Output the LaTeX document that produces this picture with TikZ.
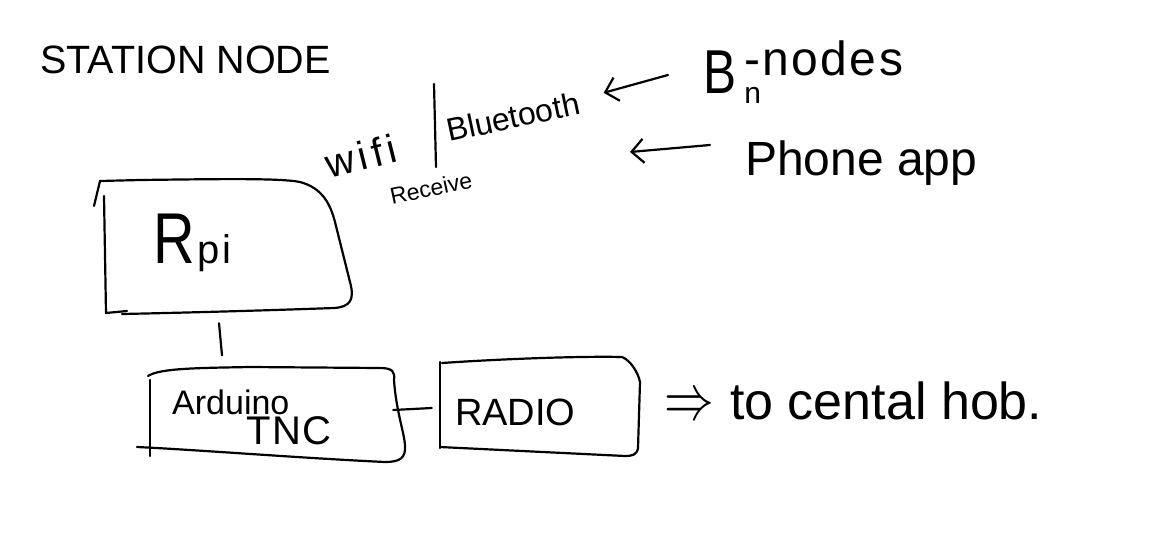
\documentclass[tikz,border=0pt]{standalone}
\usepackage{fontspec}
\setmainfont{Liberation Sans}
\usetikzlibrary{arrows.meta}
\newcommand{\fs}[1]{\fontsize{#1}{#1}\selectfont}
\newcommand{\ls}[1]{\addfontfeature{LetterSpace=#1}}
\begin{document}
\begin{tikzpicture}[x=1pt,y=-1pt,
  ink/.style={line width=2.2pt, line cap=round, line join=round, black},
  lbl/.style={inner sep=0pt, anchor=base west, text=black},
  box/.style={draw=none, inner sep=0pt},
  barb/.style={ink, -{Straight Barb[length=12pt,width=24pt]}}]
\useasboundingbox (0,0) rectangle (1161,541);

% title
\node[lbl, font=\fs{39.5}] (title) at (40,73) {STATION NODE};

% Rpi box
\node[box, minimum width=250pt, minimum height=134pt] (rpi) at (228,247) {};
\draw[ink] (94,206) -- (100,181);
\draw[ink] (100,181) -- (140,180) .. controls (220,179) and (280,178) .. (300,182)
  .. controls (322,188) and (330,203) .. (335,222) -- (350,282)
  .. controls (355,300) and (350,307) .. (334,308)
  .. controls (250,311) and (170,313) .. (122,314);
\draw[ink] (104,196) -- (106,313) -- (127,311);
\node[lbl] (rpitext) at (153,263) {\fs{72}\scalebox{0.8}[1]{R}\kern3pt\fs{40}\ls{6}pi};

% Arduino TNC box
\node[box, minimum width=250pt, minimum height=95pt] (ard) at (270,414) {};
\draw[ink] (150,380) -- (150,456);
\draw[ink] (148,376) .. controls (160,368) and (200,368) .. (250,367) -- (380,368)
  .. controls (393,368) and (395,372) .. (394,380)
  .. controls (396,410) and (404,432) .. (405,445)
  .. controls (406,458) and (400,462) .. (385,462)
  .. controls (300,458) and (200,450) .. (137,447);
\node[lbl, font=\fs{34}] (ardtext) at (172,414) {Arduino};
\node[lbl, font=\fs{40}\ls{4}] (tnctext) at (246,444) {TNC};

% RADIO box
\node[box, minimum width=203pt, minimum height=97pt] (radio) at (538,406) {};
\draw[ink] (440,362) -- (440,448);
\draw[ink] (442,363) .. controls (500,359) and (580,356) .. (622,357)
  .. controls (630,360) and (638,372) .. (640,382) -- (638,448)
  .. controls (637,455) and (632,456) .. (625,456) -- (440,447);
\node[lbl, font=\fs{38}] (radiotext) at (455,425) {RADIO};

% connectors between boxes
\draw[ink] ([shift={(-9,9)}]rpi.south) -- ([shift={(-48,-11)}]ard.north);
\draw[ink] ([shift={(-2,-4)}]ard.east) -- ([shift={(-4.5,2)}]radio.west);

% to central hub
\node[lbl, font=\fs{24}] (arr) at (664,419) {\scalebox{2}[2.6]{$\Rightarrow$}};
\node[lbl, font=\fs{52}] (hub) at (730,419) {to cental hob.};

% wifi / bluetooth
\node[lbl, font=\fs{40}\ls{12}, rotate=14] (wifi) at (329,179) {wifi};
\draw[ink] (434,84) -- (436,167);
\node[lbl, font=\fs{32}, rotate=12] (bt) at (449,142) {Bluetooth};
\node[lbl, font=\fs{23}, rotate=12] (recv) at (392,205) {Receive};

% B_n-nodes
\node[lbl] (bnodes) at (703,93) {\fs{62}\scalebox{0.8}[1]{B}\kern8pt\rlap{\raisebox{-10pt}{\fs{30}n}}\raisebox{18pt}{\fs{48}\ls{5}-nodes}};
\draw[barb] ([shift={(-35,-18)}]bnodes.base west) -- ([shift={(22,-21)}]bt.base east);

% Phone app
\node[lbl, font=\fs{48}] (phone) at (745,175) {Phone app};
\coordinate (phonetip) at (630,152);
\draw[barb] ([shift={(-35,-30)}]phone.base west) -- (phonetip);
\end{tikzpicture}
\end{document}
